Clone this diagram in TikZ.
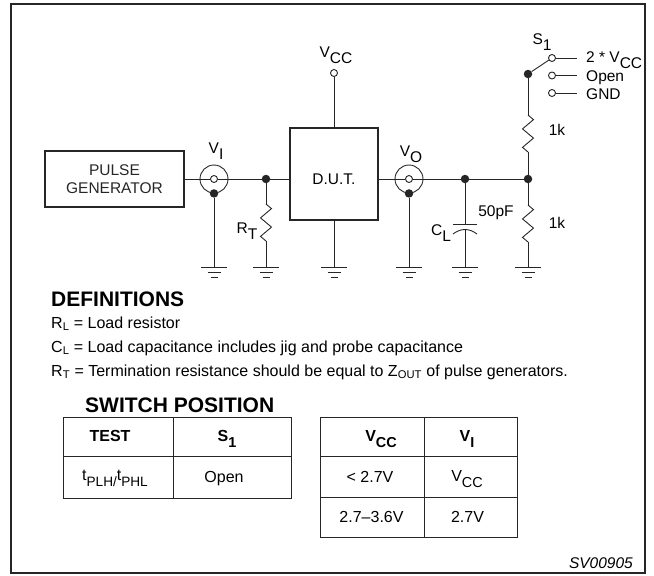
\documentclass[tikz,border=0pt]{standalone}
\usepackage{fontspec}
\setmainfont{Liberation Sans}
\usetikzlibrary{calc}

\newcommand{\dn}[1]{\raisebox{-0.4em}{#1}}

\begin{document}
\begin{tikzpicture}[x=1pt,y=-1pt,
  wire/.style={line width=0.9pt,black!85},
  box/.style={draw,line width=1.8pt,black!85,inner sep=0},
  dot/.style={circle,fill=black!85,inner sep=0,minimum size=8.5pt},
  term/.style={circle,draw,wire,fill=white,inner sep=0,minimum size=7pt},
  coax/.style={circle,draw,wire,inner sep=0,minimum size=28pt},
  lbl/.style={font=\fontsize{15.5}{18}\selectfont,inner sep=0},
  txt/.style={font=\fontsize{16}{19}\selectfont,inner sep=0,anchor=base west},
  head/.style={font=\fontsize{21}{24}\selectfont\bfseries,inner sep=0,anchor=base west},
  cell/.style={font=\fontsize{16}{19}\selectfont,inner sep=0,anchor=base},
  hcell/.style={cell,font=\fontsize{16}{19}\selectfont\bfseries},
  rule/.style={line width=0.9pt,black!85},
  res/.pic={\draw[wire] (0,0) -- (5.5,4.6) -- (-5.5,13.9) -- (5.5,23.1) -- (-5.5,32.4) -- (0,37);},
  gnd/.pic={\draw[wire] (-13,0) -- (13,0) (-6.5,5) -- (6.5,5) (-3.5,10) -- (3.5,10);}
]
  \useasboundingbox (0,0) rectangle (654,576);
  \draw[line width=1.5pt,black!85] (11,4) rectangle (645,573);

  % input side
  \node[box,lbl,minimum width=139pt,minimum height=56pt,align=center] (pg) at (114.5,179) {PULSE\\GENERATOR};
  \node[coax] (vi) at (214,179) {};
  \node[term] (vic) at (vi.center) {};
  \node[dot] (vid) at (vi.south) {};
  \node[lbl,anchor=base] (vil) at (216,153) {V\dn{I}};

  \node[dot] (j1) at (266,179) {};
  \coordinate (rt) at (266,204);
  \coordinate (rtb) at (266,241);
  \node[lbl,anchor=base] (rtl) at (247,233) {R\dn{T}};

  % device
  \node[box,minimum width=88pt,minimum height=92pt] (dut) at (334,174) {};
  \node[lbl] (dutl) at (334,179) {D.U.T.};
  \node[term] (vcc) at (334,73) {};
  \node[lbl,anchor=base] (vccl) at (336,57) {V\dn{CC}};

  % output side
  \node[coax] (vo) at (409,179) {};
  \node[term] (voc) at (vo.center) {};
  \node[dot] (vod) at (vo.south) {};
  \node[lbl,anchor=base] (vol) at (411,156) {V\dn{O}};

  \node[dot] (j2) at (465,179) {};
  \node[dot] (j3) at (528,179) {};
  \coordinate (cl) at (465,224);
  \coordinate (clb) at (465,229.5);
  \node[lbl,anchor=base] (cll) at (441,235) {C\dn{L}};
  \node[lbl] (clv) at (496,213) {50pF};

  \coordinate (r1) at (528,115);
  \coordinate (r1b) at (528,152);
  \coordinate (r2) at (528,205);
  \coordinate (r2b) at (528,242);
  \node[lbl] (r1l) at (557,130) {1k};
  \node[lbl] (r2l) at (557,223) {1k};

  % switch
  \node[dot] (sw) at (528,74) {};
  \node[term] (s1) at (552,58) {};
  \node[term] (s2) at (552,75.5) {};
  \node[term] (s3) at (552,93) {};
  \coordinate (e1) at (577,58);
  \coordinate (e2) at (577,75.5);
  \coordinate (e3) at (577,93);
  \node[lbl,anchor=base] (swl) at (542,44) {S\dn{1}};
  \node[lbl,anchor=base west] (e1l) at (586,62.5) {2 * V\dn{CC}};
  \node[lbl,anchor=base west] (e2l) at (586,81.5) {Open};
  \node[lbl,anchor=base west] (e3l) at (586,99) {GND};

  \foreach \n/\x in {g1/214,g2/266,g3/334,g4/409,g5/465,g6/528}{
    \coordinate (\n) at (\x,267);
    \pic at (\n) {gnd};
  }
  \pic at (rt) {res};
  \pic at (r1) {res};
  \pic at (r2) {res};

  \draw[wire] (pg.east) -- (vic.west);
  \draw[wire] (vic.east) -- (j1) -- (j1 -| dut.west);
  \draw[wire] (vid) -- (g1);
  \draw[wire] (j1) -- (rt) (rtb) -- (g2);
  \draw[wire] (vcc) -- (vcc |- dut.north);
  \draw[wire] (dut.south) -- (g3);
  \draw[wire] (dut.east |- voc) -- (voc.west);
  \draw[wire] (voc.east) -- (j2) -- (j3);
  \draw[wire] (vod) -- (g4);
  \draw[wire] (j2) -- (cl) (clb) -- (g5);
  \draw[wire] ([xshift=-12pt]cl) -- ([xshift=12pt]cl);
  \draw[wire] ([shift={(-12,10)}]cl) .. controls ([shift={(-4,4)}]cl) and ([shift={(4,4)}]cl) .. ([shift={(12,10)}]cl);
  \draw[wire] (sw) -- (r1) (r1b) -- (j3) -- (r2) (r2b) -- (g6);
  \draw[wire] (sw) -- (s1);
  \draw[wire] (s1) -- (e1) (s2) -- (e2) (s3) -- (e3);

  % definitions
  \node[head] (defh) at (51,306.5) {DEFINITIONS};
  \node[txt] (def1) at (51,328) {R\textsubscript{L} = Load resistor};
  \node[txt] (def2) at (51,352) {C\textsubscript{L} = Load capacitance includes jig and probe capacitance};
  \node[txt] (def3) at (51,376) {R\textsubscript{T} = Termination resistance should be equal to Z\textsubscript{OUT} of pulse generators.};

  % switch position tables
  \node[head] (swh) at (85,412.5) {SWITCH POSITION};
  \draw[rule] (63,417) rectangle (291,498) (173,417) -- (173,498) (63,456) -- (291,456);
  \draw[rule] (320,417) rectangle (517,537) (424,417) -- (424,537) (320,456) -- (517,456) (320,497) -- (517,497);

  \node[hcell] (ta1) at (110,441) {TEST};
  \node[hcell] (ta2) at (227,441) {S\dn{\scalebox{0.9}{1}}};
  \node[cell] (ta3) at (115,480) {t\dn{\scalebox{0.85}{PLH/}}t\dn{\scalebox{0.85}{PHL}}};
  \node[cell] (ta4) at (224,482) {Open};

  \node[hcell] (tb1) at (381,441) {V\dn{\scalebox{0.9}{CC}}};
  \node[hcell] (tb2) at (467,441) {V\dn{\scalebox{0.9}{I}}};
  \node[cell] (tb3) at (370,482) {< 2.7V};
  \node[cell] (tb4) at (467,481) {V\dn{\scalebox{0.9}{CC}}};
  \node[cell] (tb5) at (371.5,522) {2.7--3.6V};
  \node[cell] (tb6) at (467.5,522) {2.7V};

  \node[cell,anchor=base east,font=\fontsize{15.5}{18}\selectfont\itshape] (code) at (633,568) {SV00905};
\end{tikzpicture}
\end{document}
